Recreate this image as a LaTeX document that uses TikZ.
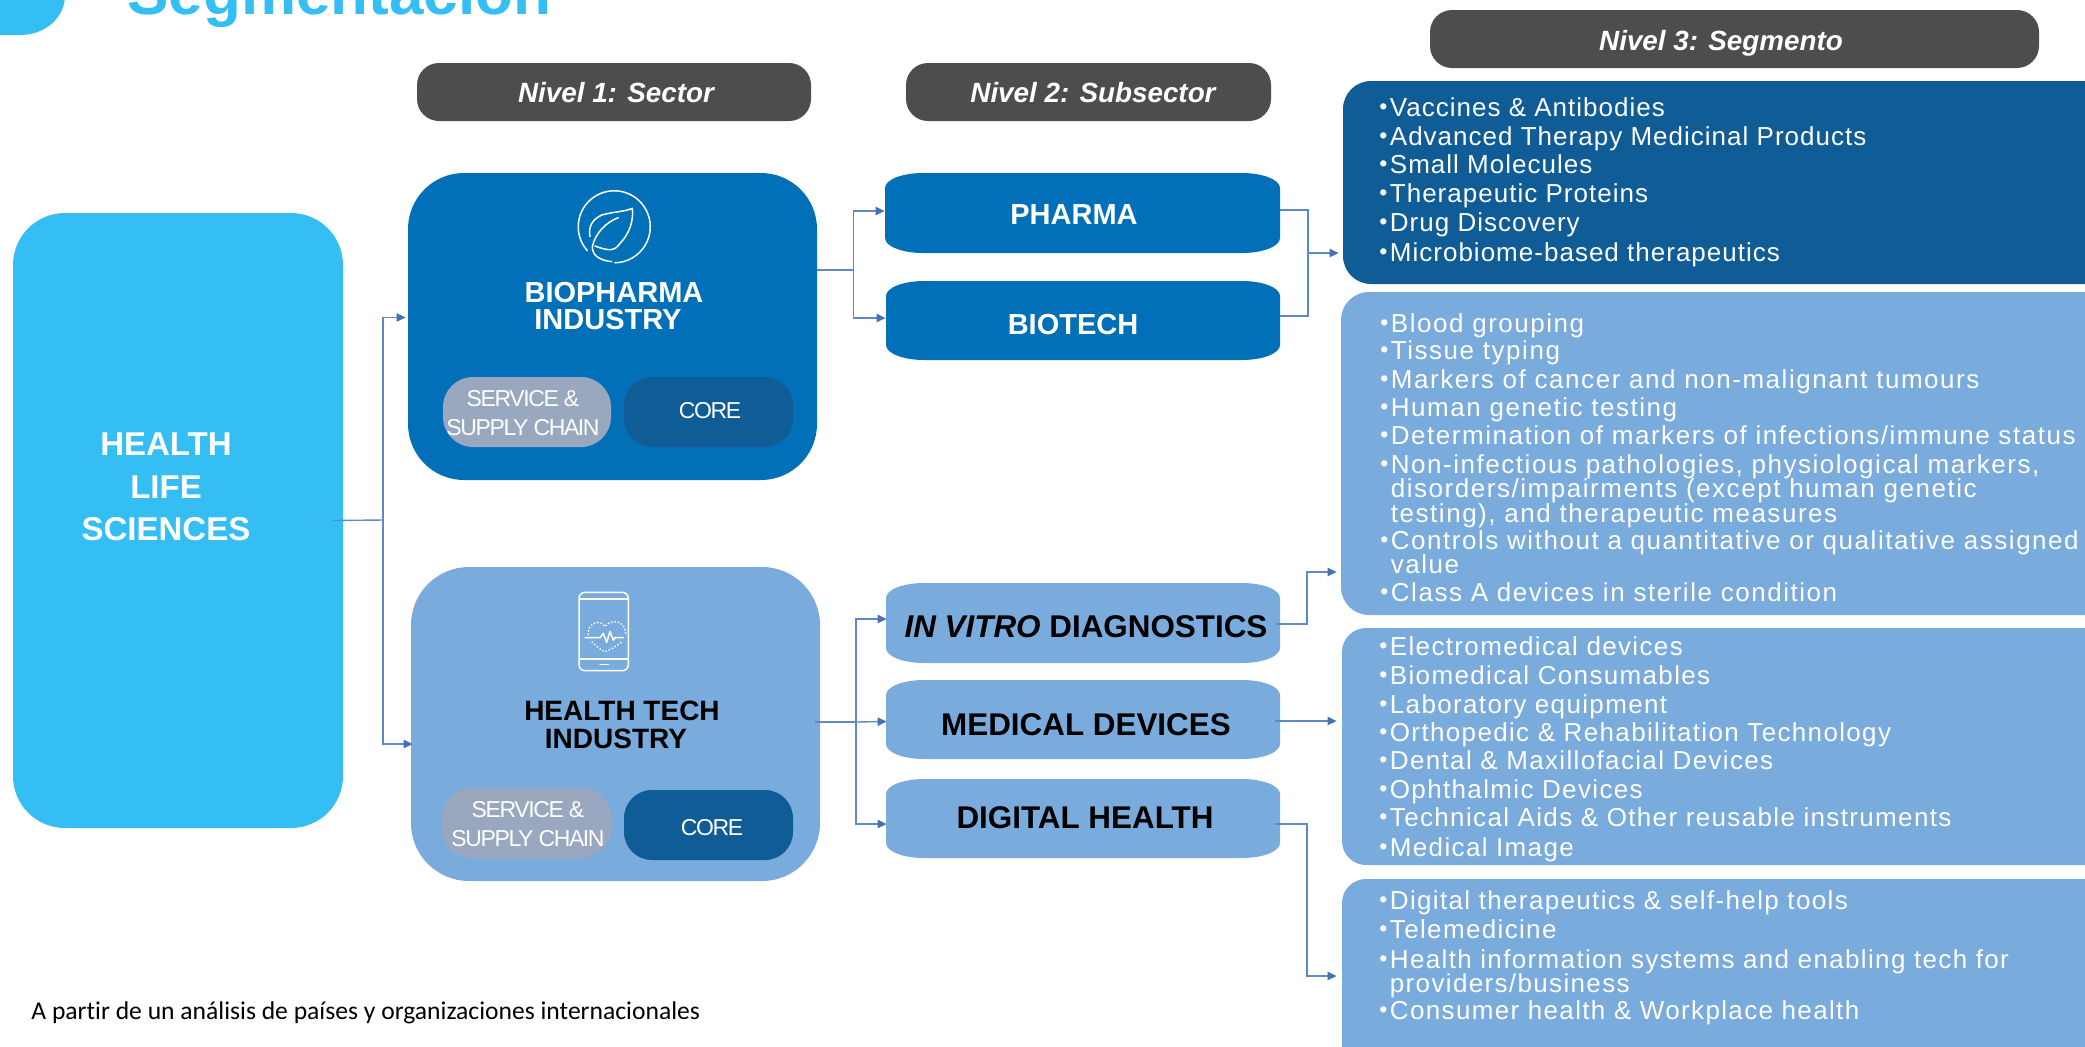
\documentclass[tikz,border=0pt]{standalone}
\usepackage{fontspec}
\setmainfont{Liberation Sans}
\newfontfamily\lspa[LetterSpace=3.9]{Liberation Sans}
\newfontfamily\lspb[LetterSpace=5.2]{Liberation Sans}
\newfontfamily\lspc[LetterSpace=5.9]{Liberation Sans}
\newfontfamily\lsq[LetterSpace=-6]{Liberation Sans}
\newfontfamily\carl[Ligatures=NoCommon]{Carlito}
\usetikzlibrary{arrows.meta}
\definecolor{cyanb}{HTML}{34BEF4}
\definecolor{blueb}{HTML}{0270B9}
\definecolor{lightb}{HTML}{7AABDD}
\definecolor{darkb}{HTML}{0F5C96}
\definecolor{greyb}{HTML}{9AA8BF}
\definecolor{headb}{HTML}{4D4D4D}
\definecolor{connb}{HTML}{5F88C6}
\definecolor{tipb}{HTML}{4472B4}
\newcommand\px[1]{\fontsize{#1}{#1}\selectfont}
% rounded box in picture pixels
\newcommand\rbox[7]{\node[fill=#7,rounded corners={#6*0.5pt},inner sep=0pt,
  minimum width={(#4-#2)*0.5pt},minimum height={(#5-#3)*0.5pt}] (#1) at ({(#2+#4)/2},{(#3+#5)/2}) {};}
% box with elliptical corners
\newcommand\ebox[6]{\fill[#6] ({#2+38},#3) -- ({#4-38},#3) arc[start angle=90,end angle=0,x radius=19pt,y radius=7.5pt]
  -- (#4,{#5-15}) arc[start angle=0,end angle=-90,x radius=19pt,y radius=7.5pt]
  -- ({#2+38},#5) arc[start angle=-90,end angle=-180,x radius=19pt,y radius=7.5pt]
  -- (#2,{#3+15}) arc[start angle=180,end angle=90,x radius=19pt,y radius=7.5pt] -- cycle;
  \node[inner sep=0pt,minimum width={(#4-#2)*0.5pt},minimum height={(#5-#3)*0.5pt}] (#1) at ({(#2+#4)/2},{(#3+#5)/2}) {};}
\newcommand\bul{\makebox[5.25pt][l]{\raisebox{0.6pt}{\fontsize{11.5}{11.5}\selectfont •}}}
\newcommand\seg[4]{\node[segtxt] (#1) at (#2,#3) {\bul#4};}
\newcommand\segb[5]{\node[segtxt] (#1) at (#2,#3) {\vtop{\hbox{\bul#4}#5}};}
\newcommand\cont[1]{\hbox{\hspace*{5.25pt}#1}}
\tikzset{
  conn/.style={draw=connb,line width=0.7pt},
  arr/.style={conn,-{Triangle[length=4.5pt,width=4.2pt,fill=tipb,color=tipb]}},
  segtxt/.style={anchor=base west,inner sep=0pt,yshift=-0.5pt,text=white,font=\lspb\fontsize{13}{12.25}\selectfont},
  head/.style={anchor=base,inner sep=0pt,text=white,font=\bfseries\itshape\px{13.9}},
  subw/.style={anchor=base,inner sep=0pt,text=white,font=\bfseries\px{14.5}},
  subk/.style={anchor=base,inner sep=0pt,text=black,font=\bfseries\px{15.7}},
  small/.style={inner sep=0pt,text=white,align=center,font=\lsq\fontsize{11.5}{14.5}\selectfont},
  ico/.style={draw=white,line width=0.75pt,line cap=round,line join=round},
}
\begin{document}
\begin{tikzpicture}[x=0.5pt,y=-0.5pt]
\useasboundingbox (0,0) rectangle (2085,1046);
\clip (0,0) rectangle (2085,1046);
% title
\fill[cyanb] (0,-5) -- (65,-5) .. controls (65,18) and (45,35) .. (20,35) -- (0,35) -- cycle;
\node[anchor=base west,inner sep=0pt,text=cyanb,font=\bfseries\px{31}] (title) at (127,14) {Segmentación};
% main boxes
\rbox{hls}{13}{213}{343}{828}{52}{cyanb}
\rbox{bio}{408}{173}{817}{480}{56}{blueb}
\rbox{tech}{411}{567}{820}{881}{58}{lightb}
% headers
\rbox{h1}{417}{63}{811}{121}{22}{headb}
\rbox{h2}{906}{63}{1271}{121}{22}{headb}
\rbox{h3}{1430}{10}{2039}{68}{22}{headb}
\node[head] (h1t) at (616,102) {Nivel 1: Sector};
\node[head] (h2t) at (1093,102) {Nivel 2: Subsector};
\node[head] (h3t) at (1721,50) {Nivel 3: Segmento};
% main labels
\node[inner sep=0pt,align=center,text=white,font=\bfseries\fontsize{16.5}{21.2}\selectfont] (hlst) at (166,487) {HEALTH\\LIFE\\SCIENCES};
\node[inner sep=0pt,align=center,text=white,font=\bfseries\fontsize{14.5}{13.5}\selectfont] (biot) at (614,306) {BIOPHARMA\\INDUSTRY\hspace*{6pt}};
\node[inner sep=0pt,align=center,text=black,font=\bfseries\fontsize{14}{14}\selectfont] (techt) at (622,725) {HEALTH TECH\\INDUSTRY\hspace*{6pt}};
% small chips
\rbox{sv1}{443}{377}{611}{447}{30}{greyb}
\rbox{co1}{624}{377}{793}{447}{28}{darkb}
\rbox{sv2}{442}{788}{611}{858}{30}{greyb}
\rbox{co2}{624}{790}{793}{860}{28}{darkb}
\node[small] (sv1t) at (523,413) {SERVICE \&\\SUPPLY CHAIN};
\node[small] (co1t) at (710,411) {CORE};
\node[small] (sv2t) at (528,824) {SERVICE \&\\SUPPLY CHAIN};
\node[small] (co2t) at (712,828) {CORE};
% subsector boxes
\ebox{pharma}{885}{173}{1280}{253}{blueb}
\ebox{biotech}{886}{281}{1280}{360}{blueb}
\ebox{ivd}{886}{583}{1280}{663}{lightb}
\ebox{med}{886}{680}{1280}{759}{lightb}
\ebox{dig}{886}{779}{1280}{858}{lightb}
\node[subw] (pharmat) at (1074,224) {PHARMA};
\node[subw] (biotecht) at (1073,334) {BIOTECH};
\node[subk] (ivdt) at (1086,637) {\textit{IN VITRO} DIAGNOSTICS};
\node[subk] (medt) at (1086,735) {MEDICAL DEVICES};
\node[subk] (digt) at (1085,828) {DIGITAL HEALTH};
% segment boxes
\rbox{b1}{1343}{81}{2130}{284}{28}{darkb}
\rbox{b2}{1341}{292}{2130}{615}{28}{lightb}
\rbox{b3}{1342}{628}{2130}{865}{24}{lightb}
\rbox{b4}{1342}{879}{2130}{1080}{24}{lightb}
% segment texts
\begin{scope}[segtxt/.append style={font=\lspa\fontsize{13}{12.25}\selectfont}]
\seg{a1}{1379}{115}{Vaccines \& Antibodies}
\seg{a2}{1379}{144}{Advanced Therapy Medicinal Products}
\seg{a3}{1379}{172}{Small Molecules}
\seg{a4}{1379}{201}{Therapeutic Proteins}
\seg{a5}{1379}{230}{Drug Discovery}
\seg{a6}{1379}{260}{Microbiome-based therapeutics}
\end{scope}
\begin{scope}[segtxt/.append style={font=\lspc\fontsize{13}{12.25}\selectfont}]
\seg{c1}{1380}{331}{Blood grouping}
\seg{c2}{1380}{358}{Tissue typing}
\seg{c3}{1380}{387}{Markers of cancer and non-malignant tumours}
\seg{c4}{1380}{415}{Human genetic testing}
\seg{c5}{1380}{443}{Determination of markers of infections/immune status}
\segb{c6}{1380}{472}{Non-infectious pathologies, physiological markers,}{\cont{disorders/impairments (except human genetic}\cont{testing), and therapeutic measures}}
\segb{c7}{1380}{548}{Controls without a quantitative or qualitative assigned}{\cont{value}}
\seg{c8}{1380}{600}{Class A devices in sterile condition}
\end{scope}
\seg{d1}{1379}{654}{Electromedical devices}
\seg{d2}{1379}{683}{Biomedical Consumables}
\seg{d3}{1379}{712}{Laboratory equipment}
\seg{d4}{1379}{740}{Orthopedic \& Rehabilitation Technology}
\seg{d5}{1379}{768}{Dental \& Maxillofacial Devices}
\seg{d6}{1379}{797}{Ophthalmic Devices}
\seg{d7}{1379}{825}{Technical Aids \& Other reusable instruments}
\seg{d8}{1379}{855}{Medical Image}
\seg{e1}{1379}{908}{Digital therapeutics \& self-help tools}
\seg{e2}{1379}{937}{Telemedicine}
\segb{e3}{1379}{967}{Health information systems and enabling tech for}{\cont{providers/business}}
\seg{e4}{1379}{1018}{Consumer health \& Workplace health}
% footer
\node[anchor=base west,inner sep=0pt,text=black,font=\carl\px{12.8}] (foot) at (31,1019) {A partir de un análisis de países y organizaciones internacionales};
% connectors
\coordinate (j1) at (383,520);
\coordinate (j2) at (853.5,270);
\coordinate (j3) at (1308,253);
\coordinate (j4) at (856,722);
\draw[conn] ([shift={(-10,0)}]hls.east) -- (j1);
\draw[arr] (j1) |- ([shift={(-2,-9)}]bio.west);
\draw[arr] (j1) |- ([shift={(2,20)}]tech.west);
\draw[conn] ([shift={(0,-56.5)}]bio.east) -- (j2);
\draw[arr] (j2) |- ([shift={(0,-2)}]pharma.west);
\draw[arr] (j2) |- ([shift={(0,-2.5)}]biotech.west);
\draw[conn] ([shift={(0,-3)}]pharma.east) -| (j3);
\draw[conn] ([shift={(0,-4.5)}]biotech.east) -| (j3);
\draw[arr] (j3) -- ([shift={(-4,70.5)}]b1.west);
\draw[conn] ([shift={(-5,-2)}]tech.east) -- (j4);
\draw[arr] (j4) |- ([shift={(1,-4)}]ivd.west);
\draw[arr] (j4) -- ([shift={(1,2)}]med.west);
\draw[arr] (j4) |- ([shift={(1,5.5)}]dig.west);
\draw[arr] ([shift={(-4,1)}]ivd.east) -| (1307,572) -- ([shift={(-4,118.5)}]b2.west);
\draw[arr] ([shift={(-5,1.5)}]med.east) -- ([shift={(-5,-25.5)}]b3.west);
\draw[arr] ([shift={(-5,5.5)}]dig.east) -| (1307,976) -- ([shift={(-5,-3.5)}]b4.west);
% leaf icon
\begin{scope}[shift={(560,180)},x=0.16667pt,y=-0.16667pt]
\draw[ico] (82,212) arc[start angle=221.6,end angle=-89,radius=18pt];
\draw[ico] (90,170) .. controls (85,140) and (95,120) .. (125,105) .. controls (160,95) and (195,95) .. (217,85)
  .. controls (222,125) and (205,165) .. (180,190) .. controls (165,212) and (150,215) .. (105,198);
\draw[ico] (175,113) .. controls (140,125) and (105,160) .. (97,200) .. controls (97,225) and (115,240) .. (155,245);
\end{scope}
% phone icon
\begin{scope}[shift={(560,585)},x=0.16667pt,y=-0.16667pt]
\draw[ico,rounded corners=3pt] (57,22) rectangle (205,257);
\draw[ico] (57,42) -- (205,42);
\draw[ico] (57,222) -- (205,222);
\draw[ico] (120,238) -- (145,238);
\draw[ico] (75,158) -- (120,158) -- (130,145) -- (140,172) -- (150,140) -- (160,165) -- (165,158) -- (190,158);
\draw[draw=white,line width=1pt,line cap=round,dash pattern=on 0pt off 1.7pt]
  (85,148) .. controls (82,115) and (120,100) .. (135,125) .. controls (150,100) and (200,105) .. (197,150);
\draw[draw=white,line width=1pt,line cap=round,dash pattern=on 0pt off 1.7pt]
  (97,172) .. controls (110,185) and (125,195) .. (135,200) .. controls (150,195) and (170,183) .. (183,172);
\end{scope}
\end{tikzpicture}
\end{document}
